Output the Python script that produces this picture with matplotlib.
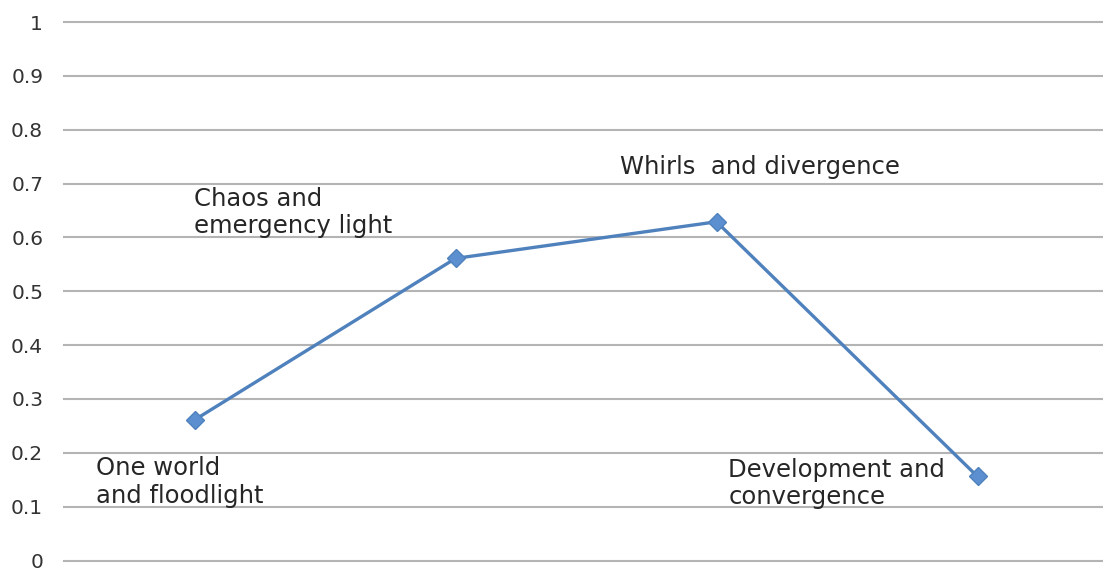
import matplotlib
matplotlib.use("Agg")
import matplotlib.pyplot as plt

# data
phases = ["One world\nand floodlight", "Chaos and\nemergency light",
          "Whirls  and divergence", "Development and\nconvergence"]
values = [0.261, 0.561, 0.629, 0.156]
yticks = [0, 0.1, 0.2, 0.3, 0.4, 0.5, 0.6, 0.7, 0.8, 0.9, 1]
ytick_labels = ["0", "0.1", "0.2", "0.3", "0.4", "0.5", "0.6", "0.7", "0.8", "0.9", "1"]

# label offsets from each point (pixels)
label_offsets = [(-99, -62), (-262, 46), (-96, 55), (-249, -7)]

fig = plt.figure(figsize=(11.03, 5.71), dpi=100)
ax = fig.add_axes([64 / 1103, 1 - 560.5 / 571, 1039 / 1103, 538.5 / 571])

x = list(range(len(values)))
ax.plot(x, values, color="#4f81bd", linewidth=2.4, marker="D",
        markersize=9.5, markerfacecolor="#5b8fd0", markeredgecolor="#4f81bd",
        zorder=3, clip_on=False)

for i, txt in enumerate(phases):
    ax.annotate(txt, (x[i], values[i]), xytext=label_offsets[i],
                textcoords="offset pixels", ha="left", va="center",
                fontsize=17.5, color="#262626", linespacing=1.18)

ax.set_xlim(-0.5, -0.5 + 1039 / 261)
ax.set_ylim(0, 1)
ax.set_yticks(yticks)
ax.set_yticklabels(ytick_labels)
ax.set_xticks([])
ax.tick_params(axis="y", length=0, pad=15, labelsize=14.5, labelcolor="#333333")
ax.grid(axis="y", color="#b4b4b4", linewidth=1.5)
for g in ax.get_ygridlines():
    g.set_clip_on(False)
ax.set_axisbelow(True)
for s in ax.spines.values():
    s.set_visible(False)

fig.savefig("out.png", dpi=100)
